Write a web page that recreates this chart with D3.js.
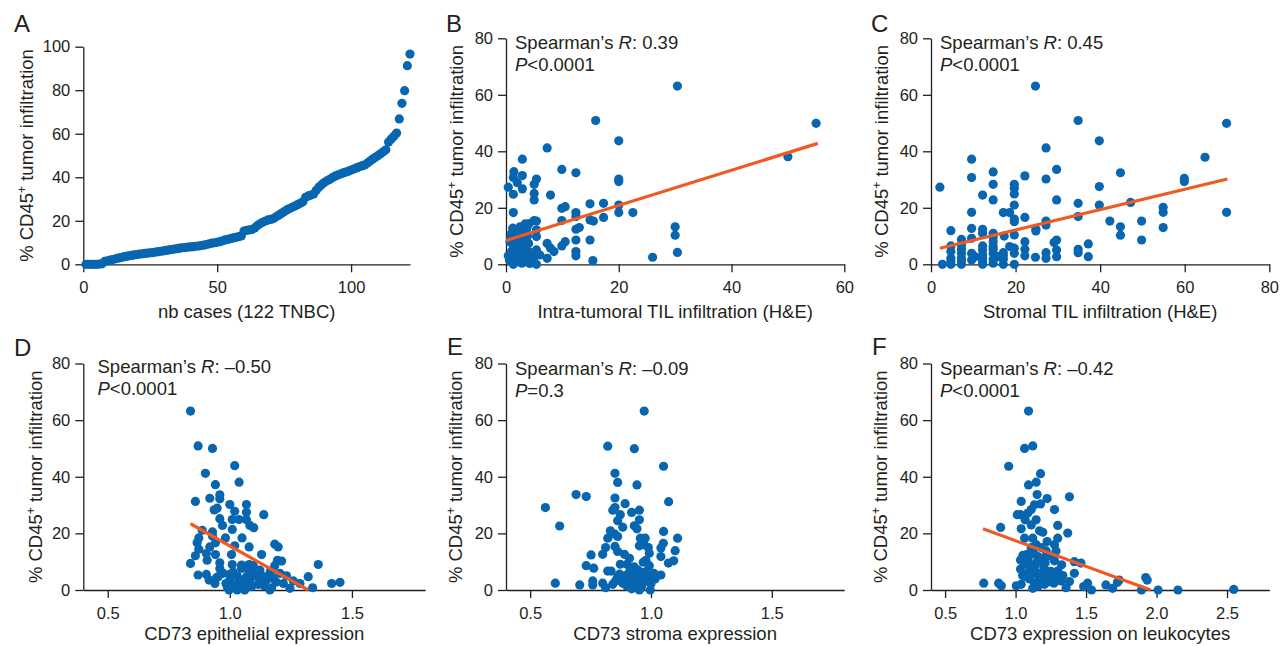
<!DOCTYPE html>
<html>
<head>
<meta charset="utf-8">
<script src="https://cdn.jsdelivr.net/npm/d3@7"></script>
<style>
  html, body { margin: 0; padding: 0; background: #fff; }
  svg { display: block; }
</style>
</head>
<body>
<div id="chart"></div>
<script>
// ---------------------------------------------------------------------------
// Data
// ---------------------------------------------------------------------------

// A: % CD45+ infiltration, ranked over the 122 TNBC cases
const rankedCd45 = [
    0, 0, 0, 0, 0, 0.1, 0.2,
    1.3, 1.6, 1.9, 2.2, 2.5, 2.8, 3.1, 3.4, 3.6, 3.9, 4.1, 4.3,
    4.5, 4.7, 4.8, 5.0, 5.1, 5.3, 5.4, 5.6, 5.8, 6.0, 6.2, 6.4, 6.6, 6.8, 7.0, 7.2,
    7.4, 7.6, 7.7, 7.9, 8.0, 8.1, 8.3, 8.4, 8.6, 8.8, 9.1, 9.4, 9.7, 9.9, 10.1,
    10.4, 10.8, 11.2, 11.5, 11.8, 12.1, 12.4, 12.7, 13.0,
    15.3, 15.6, 15.8, 16.0, 16.7, 17.8, 18.6, 19.3, 19.9, 20.4, 20.6, 21.0, 21.8,
    22.6, 23.4, 24.2, 25.0, 25.6, 26.2, 26.8, 27.4, 28.0, 28.7,
    30.8, 31.4, 31.8, 32.3, 34.0, 35.5, 36.6, 37.6, 38.4, 39.0, 39.8, 40.5, 41.0,
    41.5, 42.0, 42.4, 42.8, 43.3, 43.8, 44.3, 44.8, 45.2, 45.6, 46.4, 47.4, 48.3,
    49.1, 49.9, 50.8, 51.7, 52.6,
    56.2, 57.6, 58.9, 60.3,
    66.8, 74.0, 79.8, 91.3, 96.6
];

// B: [intra-tumoral TIL %, CD45+ %]
const intraTilPoints = [
    [30.4, 63.1], [15.9, 50.9], [55, 49.9], [20, 43.7], [7.3, 41.2], [50, 38.1],
    [2.9, 37.2], [9.9, 33.6], [12.4, 32.4], [1.4, 32.8], [2.9, 31.4], [1.3, 30.7],
    [5.4, 30.2], [20, 30.2], [20, 29.3], [2, 28.9], [5, 28.3], [0.4, 27.3],
    [2.9, 26.7], [5, 25.1], [1.3, 24.8], [7.9, 24.5], [5, 22.8], [17.3, 21.6],
    [14.9, 21.4], [20, 21], [10.5, 20.4], [9.9, 19.8], [12.4, 18.3], [20, 18.3],
    [22.5, 18.3], [1.3, 18.3], [12.4, 16.9], [17.3, 16.6], [14.9, 15.7], [15.5, 15.3],
    [9.9, 15.5], [5, 15.5], [5.4, 15.3], [3.4, 14.3], [30, 13.3], [5.4, 12.2],
    [12.4, 12.4], [13, 13], [30, 10.3], [5.4, 9.8], [12.4, 8.6], [14.9, 8.6],
    [10.5, 8], [9.9, 6.5], [7.3, 7.4], [7.9, 5.7], [8.5, 4.5], [12.4, 4.5],
    [12.4, 3], [30.4, 4.2], [5.4, 5.1], [7.3, 2.1], [5, 2.7], [6, 3.3],
    [26, 2.5], [15.4, 1.3], [5.4, 0], [0.4, 3], [1, 11], [1.6, 12.2],
    [2, 10.4], [2.5, 8.6], [3.4, 8.6], [3.4, 11], [1.3, 6.3], [2, 5.1],
    [1.3, 2.7], [2, 0.9], [2.8, 0.4], [3.4, 0.9], [4, 2.1], [2.8, 3.9],
    [1.3, 0], [0.7, 8], [2, 8], [3.4, 6.3], [4, 4.5], [2.5, 13.3],
    [3.7, 12.7], [1, 4.5], [2.2, 3.9], [4, 7.4], [1.6, 6.8], [1.2, 12.8],
    [0.6, 1.5], [1.8, 1.8], [3.1, 2.2], [4.2, 0.3], [0.9, 9.6], [2.6, 11.8],
    [3.8, 10], [1.5, 4.2], [2.3, 6.9], [3.1, 5.2], [4.1, 14.4], [1.9, 10]
];
const intraTilFit = [[0, 8.4], [55.3, 42.8]];

// C: [stromal TIL %, CD45+ %]
const stromalTilPoints = [
    [24.7, 63.1], [34.8, 50.9], [69.9, 49.9], [39.8, 43.7], [27.2, 41.2], [64.8, 37.9],
    [9.6, 37.2], [14.7, 32.7], [29.7, 33.6], [44.8, 32.4], [9.6, 30.7], [22.2, 31.3],
    [27.2, 30.2], [59.9, 30.4], [59.9, 29.3], [14.7, 28.3], [19.7, 28.3], [19.7, 26.9],
    [19.7, 24.9], [2.1, 27.3], [12.2, 24.5], [39.8, 27.5], [14.7, 22.8], [29.7, 22.8],
    [34.8, 21.6], [39.8, 21], [47.2, 21.9], [19.7, 21], [54.9, 20.2], [54.9, 18.4],
    [69.9, 18.4], [9.6, 18.4], [17.1, 18.3], [18.6, 18.3], [22.2, 16.6], [34.8, 16.9],
    [19.7, 16], [19.7, 15.1], [27.2, 15.3], [42.3, 15.3], [49.8, 15.3], [27.2, 13.9],
    [44.8, 13.3], [54.9, 13], [9.6, 12.7], [12.2, 12.4], [24.8, 12.4], [24.8, 11.8],
    [4.7, 11.9], [12.2, 11], [44.8, 10.3], [17.3, 10], [19.7, 10.4], [14.7, 9.6],
    [9.6, 9.2], [7.2, 8.8], [49.8, 8.6], [29.7, 8.6], [22.2, 8], [29.1, 7.7],
    [37.2, 7.2], [14.7, 8], [4.7, 6.5], [7.2, 6.8], [18.6, 6.3], [19.7, 5.7],
    [22.2, 5.3], [29.7, 5.1], [34.8, 5.3], [34.8, 4.1], [27.2, 4.1], [4.7, 4.5],
    [12.2, 5.1], [9.6, 3.9], [14.7, 3.9], [17.1, 4.1], [7.2, 3.9], [19.7, 3.9],
    [22.2, 3], [24.7, 2.5], [29.7, 2.7], [37.2, 2.7], [27.2, 2.1], [4.7, 2.1],
    [7.2, 2.1], [10.4, 2.7], [12.2, 2.1], [14.7, 1.8], [17.1, 1.8], [15.9, 2.7],
    [2.7, 0], [4.7, 0], [7.2, 0], [12.2, 0], [14.7, 0.4], [17.1, 0],
    [19.7, 0], [7.2, 5.3], [14.7, 6.3], [12.2, 6.5], [14.7, 11], [7.2, 1.2],
    [12.2, 3.3], [17.1, 3], [9.6, 1.5], [4.7, 1], [14.7, 5.3], [12.2, 1]
];
const stromalTilFit = [[2.1, 5.7], [70.1, 30.2]];

// D: [CD73 epithelial expression, CD45+ %]
const epithelialPoints = [
    [0.839, 63.2], [0.870, 50.9], [0.929, 50], [1.02, 43.9], [0.900, 41.2], [1.038, 38.1],
    [0.941, 37.2], [0.959, 33.6], [0.859, 31.3], [0.918, 32.4], [0.959, 32.2], [1.0, 30.2],
    [1.068, 30.2], [0.948, 28.9], [0.936, 28.3], [1.02, 27.8], [1.068, 27.5], [1.139, 26.6],
    [0.959, 25.2], [1.01, 24.9], [1.038, 24.9], [1.068, 24.8], [0.97, 22.8], [1.082, 22.8],
    [1.098, 22], [1.01, 21.4], [0.887, 21.1], [0.929, 20.5], [0.929, 19.1], [0.982, 18.4],
    [1.05, 18.4], [0.873, 18.4], [0.866, 16.7], [0.941, 16.7], [1.184, 16.2], [1.198, 15.2],
    [1.02, 15.6], [1.079, 15.2], [0.918, 15.2], [0.873, 14.4], [0.904, 12.9], [0.941, 12.5],
    [1.007, 12.5], [1.13, 12.5], [0.859, 12.1], [0.907, 10.5], [1.195, 10.5], [1.212, 10.2],
    [0.959, 9.6], [0.839, 9.4], [1.01, 9], [1.079, 9], [1.362, 9], [1.184, 8.6],
    [1.096, 8.6], [0.959, 7.6], [1.048, 7.6], [1.123, 7], [1.167, 6.7], [1.205, 5.9],
    [0.904, 5.5], [0.870, 5.3], [1.0, 5.5], [1.03, 5], [1.068, 4.7], [1.109, 5],
    [1.232, 5], [1.321, 4.7], [0.945, 4.3], [0.915, 3.5], [1.0, 3.5], [1.041, 3.5],
    [1.082, 3.2], [1.15, 3.5], [1.26, 3.2], [0.939, 2.3], [0.984, 2.3], [1.02, 2],
    [1.061, 2.3], [1.116, 2], [1.219, 2.3], [1.287, 2.3], [1.417, 2.3], [1.451, 2.7],
    [1.089, 1.2], [1.171, 0.8], [1.246, 0.6], [1.339, 0.8], [0.997, 0], [1.03, 0],
    [1.061, 0], [1.164, 0], [0.973, 5.9], [1.014, 6.4], [1.096, 5.9], [1.137, 4.7],
    [1.178, 4.1], [0.952, 4.7], [1.048, 8.8], [1.164, 5.9], [1.12, 3.8], [1.05, 1.2],
    [1.19, 2.8], [0.99, 1], [1.14, 1.5], [1.08, 6.6]
];
const epithelialFit = [[0.839, 23.4], [1.321, 0]];

// E: [CD73 stroma expression, CD45+ %]
const stromaPoints = [
    [0.972, 63.2], [0.821, 50.8], [0.931, 49.9], [1.052, 43.7], [0.851, 41.2], [0.862, 38],
    [0.942, 37.1], [0.690, 33.7], [0.732, 33], [0.851, 32.5], [1.073, 31.2], [0.893, 30.5],
    [0.563, 29.1], [0.851, 29.1], [0.842, 28.2], [0.952, 28.2], [0.92, 27.4], [0.873, 26.6],
    [0.952, 24.8], [0.862, 24.5], [0.622, 22.6], [0.931, 22.7], [0.883, 22.2], [0.942, 21.6],
    [0.832, 20.9], [1.052, 20.7], [0.851, 19.7], [1.11, 18.3], [0.821, 18.3], [0.956, 18.3],
    [0.976, 18.3], [0.862, 18.9], [1.051, 16.5], [0.952, 15.6], [0.972, 16], [0.989, 15],
    [0.812, 15], [0.851, 15.4], [1.041, 14.8], [1.1, 13.9], [0.862, 13.6], [0.993, 13],
    [0.89, 12.6], [0.752, 12.4], [0.8, 12.6], [1.041, 11.8], [0.911, 11.2], [0.979, 10.5],
    [1.094, 10.3], [1.072, 9.5], [0.873, 9.1], [0.901, 9.1], [0.993, 8.6], [0.732, 8.6],
    [0.968, 9.8], [0.763, 7.7], [0.821, 6.7], [0.835, 6.7], [0.915, 7.7], [0.945, 7.1],
    [0.979, 6.5], [0.928, 5.6], [1.041, 5.3], [0.862, 4.7], [0.894, 5.1], [0.966, 5.1],
    [0.99, 4.7], [1.017, 3.9], [0.915, 3.5], [0.945, 3.5], [0.759, 3.2], [0.853, 3.2],
    [0.604, 2.4], [0.705, 1.8], [0.759, 1.8], [0.8, 2.4], [0.842, 2], [0.883, 2.4],
    [0.993, 2.7], [0.917, 1.2], [0.945, 0.6], [0.812, 0.8], [0.997, 0], [0.952, 0],
    [0.924, 2], [0.961, 2], [0.904, 3.2], [0.931, 4.1], [0.972, 3.5], [1.012, 5.9],
    [0.91, 6.2], [0.94, 4.8], [0.92, 0.4], [0.96, 1], [0.935, 2.8], [0.95, 6.6],
    [0.985, 3.3], [0.9, 1.4], [0.87, 5.6], [0.93, 8.2], [1.0, 2.2], [0.955, 4.2]
];

// F: [CD73 expression on leukocytes, CD45+ %]
const leukocytePoints = [
    [1.092, 63.2], [1.122, 50.9], [1.064, 50], [0.951, 43.7], [1.177, 41.1], [1.146, 38.1],
    [1.092, 37.1], [1.153, 33.7], [1.382, 32.9], [1.224, 32.3], [1.04, 31.3], [1.134, 30.1],
    [1.177, 30.4], [1.276, 28.4], [1.111, 28.4], [1.087, 27.2], [1.035, 26.6], [1.012, 26.6],
    [1.068, 24.8], [1.146, 24.8], [1.111, 23], [1.299, 22.8], [0.894, 22.1], [1.04, 21.6],
    [1.17, 20.9], [1.193, 20.4], [1.37, 20.1], [1.122, 18.3], [1.064, 18.3], [1.299, 18.3],
    [1.224, 17.1], [1.146, 16], [1.276, 16], [1.181, 15], [1.111, 15], [1.287, 13.8],
    [1.217, 13.8], [1.082, 12.6], [1.052, 12.2], [1.158, 11.8], [1.035, 10.6], [1.2, 11.2],
    [1.276, 10.3], [1.417, 10], [1.464, 9.5], [1.327, 8.9], [1.111, 8.9], [1.134, 8],
    [1.035, 7.4], [1.217, 6.7], [1.417, 5.9], [1.264, 5.6], [1.082, 5.6], [1.158, 5.3],
    [1.335, 5.1], [1.193, 4.7], [1.735, 3.5], [1.923, 4.4], [1.934, 3.5], [1.099, 3.9],
    [1.323, 3.2], [1.382, 3], [1.511, 2.4], [1.641, 1.8], [1.723, 2.7], [0.774, 2.4],
    [0.88, 2.4], [0.899, 1.5], [1.005, 1.5], [1.04, 2], [1.134, 2.4], [1.205, 2],
    [1.271, 2.4], [1.483, 1.2], [1.688, 0.6], [1.358, 0.8], [1.122, 0.6], [1.539, 0],
    [1.893, 0], [2.011, 0], [2.152, 0], [2.548, 0.2], [1.177, 3.5], [1.064, 4.7],
    [1.24, 4.1], [1.304, 5.1], [1.1, 7], [1.15, 9.8], [1.2, 8.2], [1.25, 6.6],
    [1.06, 9.2], [1.13, 12.9], [1.18, 6], [1.23, 2.9], [1.3, 6.8], [1.16, 1.4],
    [1.09, 11.3], [1.25, 12], [1.12, 5.8], [1.21, 9.6], [1.05, 5.1], [1.28, 3.4]
];
const leukocyteFit = [[0.769, 21.6], [1.959, 0]];

const cd45Ticks = [0, 20, 40, 60, 80];

// ---------------------------------------------------------------------------
// Drawing
// ---------------------------------------------------------------------------
const FONT = '"Liberation Sans", Arial, Helvetica, sans-serif';
const INK = '#231f20';
const DOT = '#0866b0';
const FIT = '#f05a22';

const svg = d3.select('#chart').append('svg')
    .attr('width', 1281)
    .attr('height', 646)
    .style('font-family', FONT);

function drawPanel(p) {
    const g = svg.append('g');

    const x = d3.scaleLinear().domain(p.xDomain).range(p.xRange);
    const y = d3.scaleLinear().domain(p.yDomain).range(p.yRange);

    // axes
    const xAxis = g.append('g')
        .attr('transform', `translate(0,${p.yRange[0]})`)
        .call(d3.axisBottom(x).tickValues(p.xTicks).tickFormat(p.xFormat || d3.format('d'))
            .tickSize(8).tickSizeOuter(0).tickPadding(9));
    const yAxis = g.append('g')
        .attr('transform', `translate(${p.xRange[0]},0)`)
        .call(d3.axisLeft(y).tickValues(p.yTicks).tickFormat(d3.format('d'))
            .tickSize(8).tickSizeOuter(0).tickPadding(5));

    [xAxis, yAxis].forEach(a => {
        a.selectAll('path, line').attr('stroke', INK).attr('stroke-width', 1.3);
        a.selectAll('text').attr('fill', INK).style('font-size', '16.5px').style('font-family', FONT);
    });

    // points
    g.append('g').selectAll('circle')
        .data(p.points)
        .enter()
        .append('circle')
        .attr('cx', d => x(d[0]))
        .attr('cy', d => y(d[1]))
        .attr('r', 4.6)
        .attr('fill', DOT);

    // regression line
    if (p.fit) {
        g.append('line')
            .attr('x1', x(p.fit[0][0])).attr('y1', y(p.fit[0][1]))
            .attr('x2', x(p.fit[1][0])).attr('y2', y(p.fit[1][1]))
            .attr('stroke', FIT)
            .attr('stroke-width', 3.2);
    }

    // x title
    g.append('text')
        .attr('x', (p.xRange[0] + p.xRange[1]) / 2)
        .attr('y', p.yRange[0] + p.xTitleDy)
        .attr('text-anchor', 'middle')
        .attr('fill', INK)
        .style('font-size', '18.5px')
        .text(p.xTitle);

    // y title
    const yt = g.append('text')
        .attr('transform', `translate(${p.yTitleX},${(p.yRange[0] + p.yRange[1]) / 2}) rotate(-90)`)
        .attr('text-anchor', 'middle')
        .attr('fill', INK)
        .style('font-size', '18.5px');
    yt.append('tspan').text('% CD45');
    yt.append('tspan').attr('dy', -7).style('font-size', '12px').text('+');
    yt.append('tspan').attr('dy', 7).text(' tumor infiltration');

    // panel letter
    g.append('text')
        .attr('x', p.letterX)
        .attr('y', p.letterY)
        .attr('fill', INK)
        .style('font-size', '24px')
        .text(p.letter);

    // statistics
    if (p.stat) {
        const s1 = g.append('text')
            .attr('x', p.statX).attr('y', p.statY)
            .attr('fill', INK).style('font-size', '18.5px');
        s1.append('tspan').text('Spearman\u2019s ');
        s1.append('tspan').style('font-style', 'italic').text('R');
        s1.append('tspan').text(': ' + p.stat.r);

        const s2 = g.append('text')
            .attr('x', p.statX).attr('y', p.statY + 22)
            .attr('fill', INK).style('font-size', '18.5px');
        s2.append('tspan').style('font-style', 'italic').text('P');
        s2.append('tspan').text(p.stat.p);
    }
}

const fmt1 = d3.format('.1f');

drawPanel({
    letter: 'A', letterX: 14, letterY: 32,
    xDomain: [0, 122], xRange: [83.3, 410], xTicks: [0, 50, 100],
    yDomain: [0, 100], yRange: [264.3, 46.7], yTicks: [0, 20, 40, 60, 80, 100],
    points: rankedCd45.map((v, i) => [i + 1, v]),
    xTitle: 'nb cases (122 TNBC)', xTitleDy: 54, yTitleX: 33
});

drawPanel({
    letter: 'B', letterX: 446, letterY: 32,
    xDomain: [0, 60], xRange: [506, 844.3], xTicks: [0, 20, 40, 60],
    yDomain: [0, 80], yRange: [264.3, 38.3], yTicks: cd45Ticks,
    points: intraTilPoints, fit: intraTilFit,
    xTitle: 'Intra-tumoral TIL infiltration (H&E)', xTitleDy: 54, yTitleX: 463,
    stat: { r: '0.39', p: '<0.0001' }, statX: 515, statY: 49
});

drawPanel({
    letter: 'C', letterX: 871, letterY: 32,
    xDomain: [0, 80], xRange: [931, 1269.3], xTicks: [0, 20, 40, 60, 80],
    yDomain: [0, 80], yRange: [264.3, 38.3], yTicks: cd45Ticks,
    points: stromalTilPoints, fit: stromalTilFit,
    xTitle: 'Stromal TIL infiltration (H&E)', xTitleDy: 54, yTitleX: 888,
    stat: { r: '0.45', p: '<0.0001' }, statX: 940, statY: 49
});

drawPanel({
    letter: 'D', letterX: 14, letterY: 356,
    xDomain: [0.4, 1.8], xRange: [83.3, 425.2], xTicks: [0.5, 1.0, 1.5], xFormat: fmt1,
    yDomain: [0, 80], yRange: [590, 363.5], yTicks: cd45Ticks,
    points: epithelialPoints, fit: epithelialFit,
    xTitle: 'CD73 epithelial expression', xTitleDy: 50, yTitleX: 41.5,
    stat: { r: '\u20130.50', p: '<0.0001' }, statX: 97.5, statY: 373
});

drawPanel({
    letter: 'E', letterX: 447, letterY: 355,
    xDomain: [0.4, 1.8], xRange: [506, 844.3], xTicks: [0.5, 1.0, 1.5], xFormat: fmt1,
    yDomain: [0, 80], yRange: [590, 363.5], yTicks: cd45Ticks,
    points: stromaPoints,
    xTitle: 'CD73 stroma expression', xTitleDy: 50, yTitleX: 462,
    stat: { r: '\u20130.09', p: '=0.3' }, statX: 515, statY: 375
});

drawPanel({
    letter: 'F', letterX: 872, letterY: 355,
    xDomain: [0.4, 2.8], xRange: [931, 1269.3], xTicks: [0.5, 1.0, 1.5, 2.0, 2.5], xFormat: fmt1,
    yDomain: [0, 80], yRange: [590, 363.5], yTicks: cd45Ticks,
    points: leukocytePoints, fit: leukocyteFit,
    xTitle: 'CD73 expression on leukocytes', xTitleDy: 50, yTitleX: 887,
    stat: { r: '\u20130.42', p: '<0.0001' }, statX: 940, statY: 375
});
</script>
</body>
</html>
